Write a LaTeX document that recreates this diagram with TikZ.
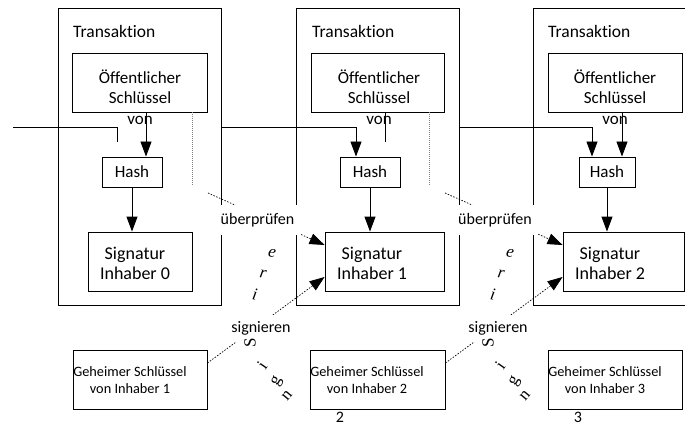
\documentclass[tikz,border=0pt]{standalone}
\usepackage{fontspec}
\setmainfont{Carlito}[Ligatures={NoCommon,NoDiscretionary,NoContextual}]
\newfontfamily\lettfont{Liberation Serif}
\usetikzlibrary{arrows.meta}
\begin{document}
\begin{tikzpicture}[x=1pt,y=-1pt,
  box/.style={draw,line width=0.9pt,inner sep=0pt,rectangle},
  ln/.style={line width=0.9pt},
  arr/.style={line width=0.9pt,-{Triangle[length=15pt,width=11pt]}},
  dsh/.style={line width=0.7pt,dash pattern=on 1.5pt off 1.5pt,-{Triangle[length=15pt,width=11pt]}},
  gdot/.style={gray,line width=0.6pt,dash pattern=on 1pt off 1pt},
  lbl/.style={fill=white,inner sep=0pt,font=\fontsize{16}{19}\selectfont},
  ttl/.style={anchor=west,inner sep=0pt,font=\fontsize{17.5}{21}\selectfont},
  keytxt/.style={align=center,inner sep=0pt,font=\fontsize{17}{20.5}\selectfont},
  hashtxt/.style={inner sep=0pt,font=\fontsize{17}{20}\selectfont},
  sigtxt/.style={align=center,inner sep=0pt,font=\fontsize{18}{20}\selectfont},
  sectxt/.style={align=center,inner sep=0pt,font=\fontsize{14.3}{17}\selectfont},
  numtxt/.style={inner sep=0pt,font=\fontsize{16}{19}\selectfont},
  let/.style={inner sep=0pt,font=\lettfont\fontsize{17}{19}\selectfont}
]
\useasboundingbox (0,0) rectangle (685,425);
\clip (0,0) rectangle (685,425);

% transaction boxes
\node[box,minimum width=163pt,minimum height=297pt] (tx1) at (139.5,156.5) {};
\node[box,minimum width=163pt,minimum height=297pt] (tx2) at (377.5,156.5) {};
\node[box,minimum width=187pt,minimum height=297pt] (tx3) at (626.5,156.5) {};

% public key boxes
\node[box,minimum width=135pt,minimum height=59pt] (k1) at (139.5,82.5) {};
\node[box,minimum width=133pt,minimum height=59pt] (k2) at (377.5,82.5) {};
\node[box,minimum width=134pt,minimum height=59pt] (k3) at (615,82.5) {};

% hash boxes
\node[box,minimum width=60pt,minimum height=30pt] (h1) at (132,172) {};
\node[box,minimum width=60pt,minimum height=30pt] (h2) at (370,172) {};
\node[box,minimum width=56pt,minimum height=30pt] (h3) at (607,172) {};

% signature boxes
\node[box,minimum width=104pt,minimum height=59pt] (s1) at (140,261.5) {};
\node[box,minimum width=119pt,minimum height=59pt] (s2) at (384.5,261.5) {};
\node[box,minimum width=121pt,minimum height=59pt] (s3) at (623.5,261.5) {};

% secret key boxes
\node[box,minimum width=134pt,minimum height=59pt] (g1) at (140,379.5) {};
\node[box,minimum width=135pt,minimum height=59pt] (g2) at (377.5,379.5) {};
\node[box,minimum width=134pt,minimum height=59pt] (g3) at (615,379.5) {};

% texts
\node[ttl] (t1) at (73,31) {Transaktion};
\node[ttl] (t2) at (312,31) {Transaktion};
\node[ttl] (t3) at (548,31) {Transaktion};

\node[keytxt] (kt1) at (140,97) {Öffentlicher\\Schlüssel\\von};
\node[keytxt] (kt2) at (379,97) {Öffentlicher\\Schlüssel\\von};
\node[keytxt] (kt3) at (615,97) {Öffentlicher\\Schlüssel\\von};

\node[hashtxt] (ht1) at (h1) {Hash};
\node[hashtxt] (ht2) at (h2) {Hash};
\node[hashtxt] (ht3) at (h3) {Hash};

\node[sigtxt] (st1) at (135,263) {Signatur\\Inhaber 0};
\node[sigtxt] (st2) at (372,263) {Signatur\\Inhaber 1};
\node[sigtxt] (st3) at (610,263) {Signatur\\Inhaber 2};

\node[sectxt] (gt1) at (130,380) {Geheimer Schlüssel\\von Inhaber 1};
\node[sectxt] (gt2) at (367,380) {Geheimer Schlüssel\\von Inhaber 2};
\node[sectxt] (gt3) at (605,380) {Geheimer Schlüssel\\von Inhaber 3};

\node[numtxt] (n2) at (340,417) {2};
\node[numtxt] (n3) at (578,417) {3};

% solid connectors
\coordinate (in1) at (13,127);
\coordinate (c1) at (117,142);
\coordinate (c2) at (385,142);
\draw[ln] (in1) -| (c1);
\draw[arr] ([xshift=6.5pt]k1.south) -- ([xshift=6.5pt]k1.south |- h1.north);
\draw[arr] (h1.south) -- (h1.south |- s1.north);
\draw[arr] (tx1.east |- in1) -| ([xshift=-14pt]h2.north);
\draw[ln] ([xshift=7.5pt]k2.south) -- (c2);
\draw[arr] (h2.south) -- (h2.south |- s2.north);
\draw[arr] (tx2.east |- in1) -| ([xshift=-15pt]h3.north);
\draw[arr] ([xshift=7pt]k3.south) -- ([xshift=7pt]k3.south |- h3.north);
\draw[arr] (h3.south) -- (h3.south |- s3.north);

% gray dotted lines
\draw[gdot] ([xshift=52.5pt]k1.south) -- ++(0,74);
\draw[gdot] ([xshift=51.5pt]k2.south) -- ++(0,74);

% dashed arrows
\coordinate (v1) at (208,193);
\coordinate (v2) at (445,193);
\draw[dsh] (v1) -- ([yshift=16.5pt]s2.west);
\draw[dsh] ([yshift=16.5pt]g1.east) -- ([yshift=-15.5pt]s2.west);
\draw[dsh] (v2) -- ([yshift=16.5pt]s3.west);
\draw[dsh] ([yshift=16.5pt]g2.east) -- ([yshift=-15.5pt]s3.west);

% labels
\node[lbl,minimum width=85pt,minimum height=30pt] (u1) at (257.5,220) {überprüfen};
\node[lbl,minimum width=85pt,minimum height=30pt] (u2) at (495,220) {überprüfen};
\node[lbl,minimum width=64pt,minimum height=27pt] (sg1) at (261,328) {signieren};
\node[lbl,minimum width=64pt,minimum height=27pt] (sg2) at (498,328) {signieren};

% stray letters
\node[let,rotate=-10] (e1) at (272,253) {\itshape e};
\node[let,rotate=-10] (r1) at (263,274) {\itshape r};
\node[let,rotate=-10] (i1) at (255,294) {\itshape i};
\node[let,rotate=90] (S1) at (250,343) {S};
\node[let,rotate=55] (ii1) at (262,365) {i};
\node[let,rotate=60] (gg1) at (277,382) {g};
\node[let,rotate=50] (nn1) at (287,396) {n};

\node[let,rotate=-10] (e2) at (510,253) {\itshape e};
\node[let,rotate=-10] (r2) at (501,274) {\itshape r};
\node[let,rotate=-10] (i2) at (493,294) {\itshape i};
\node[let,rotate=90] (S2) at (488,343) {S};
\node[let,rotate=55] (ii2) at (500,365) {i};
\node[let,rotate=60] (gg2) at (515,382) {g};
\node[let,rotate=50] (nn2) at (525,396) {n};
\end{tikzpicture}
\end{document}
